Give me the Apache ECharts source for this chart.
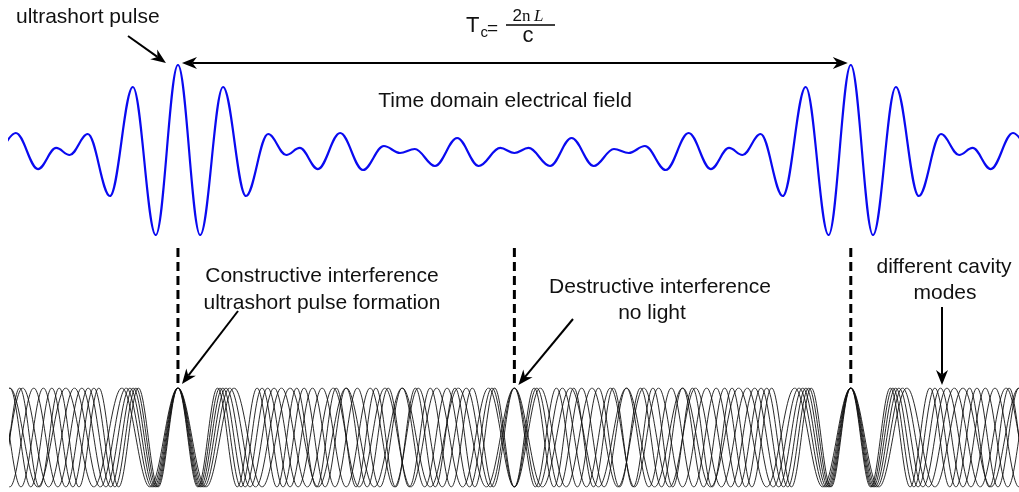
<!DOCTYPE html>
<html>
<head>
<meta charset="utf-8">
<script src="https://cdn.jsdelivr.net/npm/echarts@6/dist/echarts.min.js"></script>
<style>
  html, body { margin: 0; padding: 0; background: #ffffff; }
  #chart { width: 1019px; height: 492px; }
</style>
</head>
<body>
<div id="chart"></div>
<script>
// Time is measured in units of the cavity round-trip time Tc: pulses at t = 0 and t = 1.
// Turning points (maxima / minima) of the total electric field, normalised to the pulse peak.
const fieldTimes = [
  -0.275, -0.241, -0.208, -0.181, -0.161, -0.134, -0.101, -0.067, -0.033,
   0.000,  0.033,  0.067,  0.101,  0.134,  0.161,  0.181,  0.208,  0.241,
   0.275,  0.306,  0.330,  0.352,  0.382,  0.415,  0.447,  0.479,  0.500,
   0.521,  0.553,  0.585,  0.618,  0.648,  0.670,  0.694,  0.725,  0.759,
   0.792,  0.819,  0.839,  0.866,  0.899,  0.933,  0.967,  1.000,  1.033,
   1.067,  1.101,  1.134,  1.161,  1.181,  1.208,  1.241,  1.275
];
const fieldValues = [
  -0.235,  0.200, -0.224,  0.024, -0.059,  0.188, -0.541,  0.741, -1.000,
   1.000, -1.000,  0.741, -0.541,  0.188, -0.059,  0.024, -0.224,  0.200,
  -0.235,  0.047, -0.035,  0.012, -0.188,  0.141, -0.188,  0.024, -0.035,
   0.024, -0.188,  0.141, -0.188,  0.012, -0.035,  0.047, -0.235,  0.200,
  -0.224,  0.024, -0.059,  0.188, -0.541,  0.741, -1.000,  1.000, -1.000,
   0.741, -0.541,  0.188, -0.059,  0.024, -0.224,  0.200, -0.235
];

// Longitudinal cavity modes: oscillation cycles completed per round trip.
const modeCycles = [12, 13, 14, 15, 16, 17];

// Moments marked in the figure.
const pulseTimes = [0, 1];
const darkTime = 0.5;
const timeRange = [-0.25, 1.25];

const FONT = '"Liberation Sans", Arial, Helvetica, sans-serif';
const SERIF = '"Liberation Serif", "Times New Roman", serif';
const TEXT_SIZE = 21;

// Each mode is drawn through its crests and troughs (every half cycle, all in phase at t = 0);
// the library's monotone smoothing gives flat tops and sinusoidal flanks.
function modeTurningPoints(cycles) {
  const pts = [];
  const kMin = Math.floor(timeRange[0] * 2 * cycles) - 1;
  const kMax = Math.ceil(timeRange[1] * 2 * cycles) + 1;
  for (let k = kMin; k <= kMax; k++) {
    pts.push([k / (2 * cycles), Math.abs(k) % 2 === 0 ? 1 : -1]);
  }
  return pts;
}

const chart = echarts.init(document.getElementById('chart'), null, { renderer: 'canvas' });

const fieldSeries = {
  type: 'line',
  xAxisIndex: 0, yAxisIndex: 0,
  data: fieldTimes.map((t, i) => [t, fieldValues[i]]),
  smooth: 0.364, smoothMonotone: 'x',
  symbol: 'none', silent: true, clip: true,
  lineStyle: { color: '#0a0af0', width: 2.2 },
  z: 3
};

const modeSeries = modeCycles.map(n => ({
  type: 'line',
  xAxisIndex: 1, yAxisIndex: 1,
  data: modeTurningPoints(n),
  smooth: 0.364, smoothMonotone: 'x',
  symbol: 'none', silent: true, clip: true,
  lineStyle: { color: '#111111', width: 0.9 },
  z: 2
}));

const hiddenX = { type: 'value', min: timeRange[0], max: timeRange[1], show: false };
const hiddenY = { type: 'value', min: -1, max: 1, show: false };

chart.setOption({
  animation: false,
  backgroundColor: '#ffffff',
  grid: [
    { left: 9.75, width: 1009.5, top: 65, height: 170 },
    { left: 9.75, width: 1009.5, top: 388, height: 99 }
  ],
  xAxis: [Object.assign({ gridIndex: 0 }, hiddenX), Object.assign({ gridIndex: 1 }, hiddenX)],
  yAxis: [Object.assign({ gridIndex: 0 }, hiddenY), Object.assign({ gridIndex: 1 }, hiddenY)],
  series: [fieldSeries].concat(modeSeries)
});

// ---- annotations ----
function label(text, x, y, size, align, extra) {
  return {
    type: 'text', silent: true, z: 10,
    style: Object.assign({
      text: text, x: x, y: y,
      font: size + 'px ' + FONT, fill: '#111111',
      textAlign: align || 'center', align: align || 'center',
      textVerticalAlign: 'middle', verticalAlign: 'middle'
    }, extra || {})
  };
}

// Straight arrow with a barbed (stealth-like) head at (x2, y2).
function arrow(x1, y1, x2, y2, opts) {
  const o = Object.assign({ width: 1.8, len: 15, half: 6, notch: 4.5, both: false }, opts || {});
  const out = [];
  function head(tx, ty, fx, fy) {
    const dx = tx - fx, dy = ty - fy;
    const L = Math.hypot(dx, dy);
    const ux = dx / L, uy = dy / L, nx = -uy, ny = ux;
    out.push({
      type: 'polygon', silent: true, z: 11,
      shape: { points: [
        [tx, ty],
        [tx - ux * o.len + nx * o.half, ty - uy * o.len + ny * o.half],
        [tx - ux * (o.len - o.notch), ty - uy * (o.len - o.notch)],
        [tx - ux * o.len - nx * o.half, ty - uy * o.len - ny * o.half]
      ] },
      style: { fill: '#000000' }
    });
    return [tx - ux * (o.len - o.notch), ty - uy * (o.len - o.notch)];
  }
  const e = head(x2, y2, x1, y1);
  const s = o.both ? head(x1, y1, x2, y2) : [x1, y1];
  out.push({
    type: 'line', silent: true, z: 11,
    shape: { x1: s[0], y1: s[1], x2: e[0], y2: e[1] },
    style: { stroke: '#000000', lineWidth: o.width }
  });
  return out;
}

const px = t => chart.convertToPixel({ gridIndex: 0 }, [t, 0])[0];
const peakY = chart.convertToPixel({ gridIndex: 0 }, [0, 1])[1];
const modeTop = chart.convertToPixel({ gridIndex: 1 }, [0, 1])[1];
const fieldBottom = chart.convertToPixel({ gridIndex: 0 }, [0, -1])[1];

const p0 = px(pulseTimes[0]);
const p1 = px(pulseTimes[1]);
const pd = px(darkTime);

let g = [];

// dashed markers linking the field to the modes
[p0, pd, p1].forEach(x => {
  g.push({
    type: 'line', silent: true, z: 9,
    shape: { x1: x, y1: fieldBottom + 13, x2: x, y2: modeTop - 3 },
    style: { stroke: '#000000', lineWidth: 3, lineDash: [9, 5] }
  });
});

// ultrashort pulse
g.push(label('ultrashort pulse', 16, 17, TEXT_SIZE, 'left'));
g = g.concat(arrow(128, 36, p0 - 12, peakY - 2, { width: 2 }));

// round-trip time Tc
g = g.concat(arrow(p0 + 4, peakY - 2, p1 - 3, peakY - 2, { both: true, width: 2 }));
g.push(label('T', 466, 26, 22, 'left'));
g.push(label('c', 480.5, 33, 15, 'left'));
g.push(label('=', 487, 28.5, 19, 'left'));
g.push({
  type: 'line', silent: true, z: 10,
  shape: { x1: 506, y1: 25, x2: 555, y2: 25 },
  style: { stroke: '#000000', lineWidth: 1.3 }
});
g.push(label('2', 512.5, 16.5, 17, 'left'));
g.push(label('n', 522, 17, 17, 'left', { font: '17px ' + SERIF }));
g.push(label('L', 534, 17, 17, 'left', { font: 'italic 17px ' + SERIF }));
g.push(label('c', 528, 35.5, 22, 'center'));

// field caption
g.push(label('Time domain electrical field', 505, 101, TEXT_SIZE, 'center'));

// constructive interference
g.push(label('Constructive interference', 322, 276, TEXT_SIZE, 'center'));
g.push(label('ultrashort pulse formation', 322, 303, TEXT_SIZE, 'center'));
g = g.concat(arrow(238, 311, p0 + 4, modeTop - 4, { width: 2 }));

// destructive interference
g.push(label('Destructive interference', 660, 287, TEXT_SIZE, 'center'));
g.push(label('no light', 652, 313, TEXT_SIZE, 'center'));
g = g.concat(arrow(573, 319, pd + 4, modeTop - 3, { width: 2 }));

// cavity modes
g.push(label('different cavity', 944, 267, TEXT_SIZE, 'center'));
g.push(label('modes', 945, 293, TEXT_SIZE, 'center'));
g = g.concat(arrow(942, 307, 942, modeTop - 3, { width: 2 }));

chart.setOption({ graphic: { elements: g } });
</script>
</body>
</html>
